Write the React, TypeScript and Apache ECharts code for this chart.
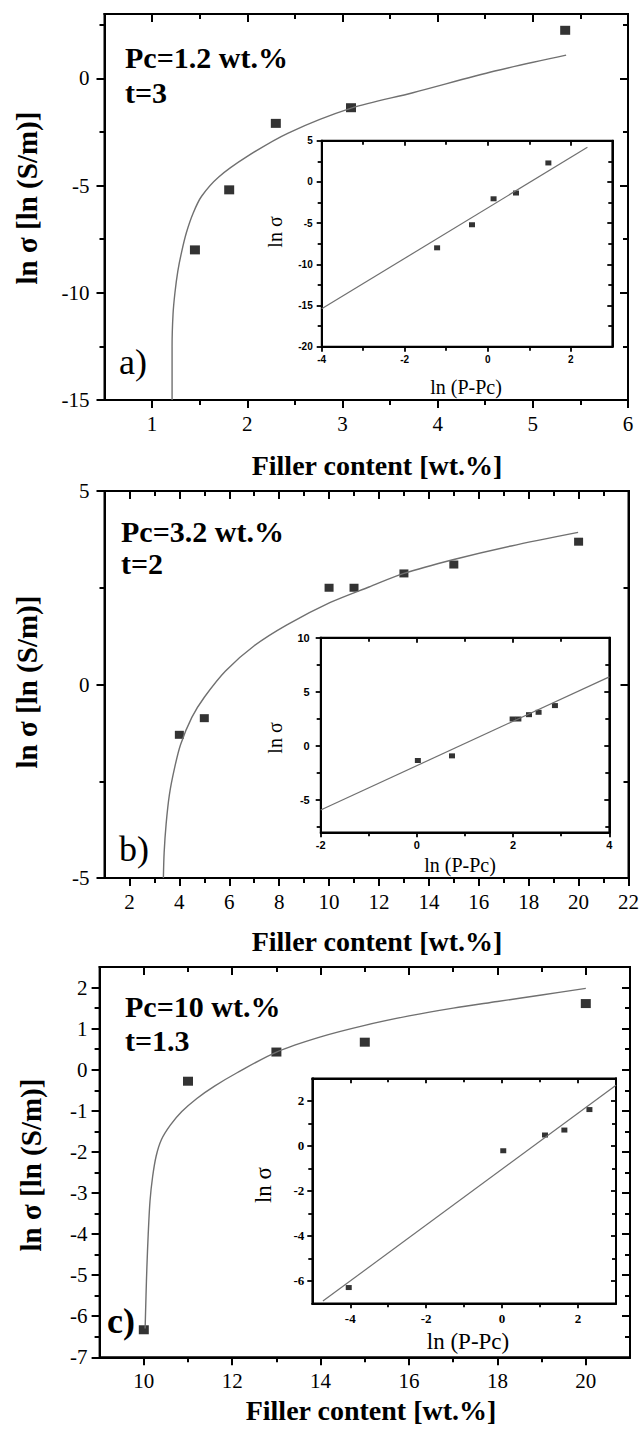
import React, { useEffect, useRef } from "react";
import * as echarts from "echarts";

// ---------- Panel a) Pc = 1.2 wt.%, t = 3 ----------
const aPoints = [[1.45, -8.0], [1.81, -5.2], [2.3, -2.1], [3.09, -1.37], [5.34, 2.24]];
const aCurve = [
  [1.21, -15], [1.21, -12.5], [1.22, -11], [1.24, -10], [1.27, -9], [1.31, -8.1], [1.36, -7.2],
  [1.43, -6.3], [1.52, -5.5], [1.7, -4.6], [2.0, -3.64], [2.43, -2.55], [3.1, -1.38],
  [3.74, -0.67], [4.6, 0.34], [5.35, 1.08],
];
const aInsetPoints = [[-1.22, -8.0], [-0.38, -5.2], [0.14, -2.05], [0.68, -1.35], [1.46, 2.3]];
const aInsetFit = [[-4, -15.4], [2.4, 4.2]];

// ---------- Panel b) Pc = 3.2 wt.%, t = 2 ----------
const bPoints = [[4, -1.3], [5, -0.87], [10, 2.5], [11, 2.5], [13, 2.87], [15, 3.1], [20, 3.69]];
const bCurve = [
  [3.36, -5], [3.39, -4.35], [3.47, -3.6], [3.6, -2.85], [3.8, -2.18], [4.05, -1.55],
  [4.5, -0.85], [5.0, -0.33], [5.85, 0.35], [7.0, 1.0], [8.31, 1.54], [10.05, 2.12],
  [11.6, 2.52], [13.0, 2.87], [15.0, 3.23], [17.3, 3.58], [19.98, 3.93],
];
const bInsetPoints = [[0.02, -1.36], [0.73, -0.93], [1.99, 2.48], [2.11, 2.48], [2.33, 2.88], [2.53, 3.1], [2.87, 3.72]];
const bInsetFit = [[-2, -5.94], [4, 6.38]];

// ---------- Panel c) Pc = 10 wt.%, t = 1.3 ----------
const cPoints = [[10, -6.33], [11, -0.28], [13, 0.43], [15, 0.67], [20, 1.61]];
const cCurve = [
  [10.03, -6.3], [10.05, -5.5], [10.07, -4.8], [10.1, -4], [10.14, -3.2], [10.2, -2.6],
  [10.28, -2.1], [10.4, -1.7], [10.6, -1.35], [10.86, -1.02], [11.2, -0.7], [11.6, -0.4],
  [12.1, -0.08], [13, 0.43], [14, 0.8], [15, 1.08], [16, 1.31], [17, 1.5], [18, 1.66],
  [19, 1.82], [20, 1.98],
];
const cInsetPoints = [[-4.04, -6.3], [0.03, -0.22], [1.13, 0.48], [1.64, 0.7], [2.3, 1.61]];
const cInsetFit = [[-4.72, -6.9], [3.0, 2.69]];

// ---------- tick values ----------
const aXMajor = [1, 2, 3, 4, 5, 6];
const aXMinor = [1.5, 2.5, 3.5, 4.5, 5.5];
const aYMajor = [-15, -10, -5, 0];
const aYMinor = [-12.5, -7.5, -2.5, 2.5];
const aIXMajor = [-4, -2, 0, 2];
const aIXMinor = [-3, -1, 1];
const aIYMajor = [-20, -15, -10, -5, 0, 5];
const aIYMinor = [-17.5, -12.5, -7.5, -2.5, 2.5];

const bXMajor = [2, 4, 6, 8, 10, 12, 14, 16, 18, 20, 22];
const bXMinor = [3, 5, 7, 9, 11, 13, 15, 17, 19, 21];
const bYMajor = [-5, 0, 5];
const bYMinor = [-2.5, 2.5];
const bIXMajor = [-2, 0, 2, 4];
const bIXMinor = [-1, 1, 3];
const bIYMajor = [-5, 0, 5, 10];
const bIYMinor = [-7.5, -2.5, 2.5, 7.5];

const cXMajor = [10, 12, 14, 16, 18, 20];
const cXMinor = [11, 13, 15, 17, 19];
const cYMajor = [-7, -6, -5, -4, -3, -2, -1, 0, 1, 2];
const cYMinor = [-6.5, -5.5, -4.5, -3.5, -2.5, -1.5, -0.5, 0.5, 1.5];
const cIXMajor = [-4, -2, 0, 2];
const cIXMinor = [-3, -1, 1];
const cIYMajor = [-6, -4, -2, 0, 2];
const cIYMinor = [-5, -3, -1, 1];

const SERIF = "'Liberation Serif','Times New Roman',serif";
const SANS = "'Liberation Sans','DejaVu Sans',sans-serif";
const INK = "#000";
const TICK = "#000";

type Panel = {
  grid: { left: number; top: number; width: number; height: number };
  x: [number, number];
  y: [number, number];
  xMajor: number[]; xMinor: number[]; yMajor: number[]; yMinor: number[];
  font: { size: number; family: string; weight: string };
  xMargin: number; yMargin: number;
  majLen: number; minLen: number; lw: number;
  points: number[][]; line: number[][]; pointSize: number[]; smooth: number | boolean;
  lineColor: string; lineWidth: number;
};

const panels: Panel[] = [
  {
    grid: { left: 104.5, top: 14, width: 523.5, height: 386 },
    x: [0.5, 6], y: [-15, 3],
    xMajor: aXMajor, xMinor: aXMinor, yMajor: aYMajor, yMinor: aYMinor,
    font: { size: 21, family: SERIF, weight: "normal" }, xMargin: 13, yMargin: 15,
    majLen: 8, minLen: 5, lw: 2,
    points: aPoints, line: aCurve, pointSize: [10, 9], smooth: 0.3,
    lineColor: "#707070", lineWidth: 1.4,
  },
  {
    grid: { left: 321.7, top: 140.7, width: 290.6, height: 206 },
    x: [-4, 3], y: [-20, 5],
    xMajor: aIXMajor, xMinor: aIXMinor, yMajor: aIYMajor, yMinor: aIYMinor,
    font: { size: 10, family: SANS, weight: "bold" }, xMargin: 8, yMargin: 9,
    majLen: 5, minLen: 4, lw: 1.8,
    points: aInsetPoints, line: aInsetFit, pointSize: [6, 5], smooth: false,
    lineColor: "#707070", lineWidth: 1.2,
  },
  {
    grid: { left: 104.5, top: 491, width: 524.5, height: 387 },
    x: [1, 22], y: [-5, 5],
    xMajor: bXMajor, xMinor: bXMinor, yMajor: bYMajor, yMinor: bYMinor,
    font: { size: 21, family: SERIF, weight: "normal" }, xMargin: 13, yMargin: 15,
    majLen: 8, minLen: 5, lw: 2,
    points: bPoints, line: bCurve, pointSize: [9, 8], smooth: 0.3,
    lineColor: "#707070", lineWidth: 1.4,
  },
  {
    grid: { left: 320.7, top: 637.7, width: 288.6, height: 194.6 },
    x: [-2, 4], y: [-8, 10],
    xMajor: bIXMajor, xMinor: bIXMinor, yMajor: bIYMajor, yMinor: bIYMinor,
    font: { size: 11, family: SANS, weight: "bold" }, xMargin: 7, yMargin: 11,
    majLen: 5, minLen: 4, lw: 1.8,
    points: bInsetPoints, line: bInsetFit, pointSize: [6, 5], smooth: false,
    lineColor: "#707070", lineWidth: 1.2,
  },
  {
    grid: { left: 99.6, top: 967, width: 530.4, height: 390.3 },
    x: [9, 21], y: [-7, 2.5],
    xMajor: cXMajor, xMinor: cXMinor, yMajor: cYMajor, yMinor: cYMinor,
    font: { size: 21, family: SERIF, weight: "normal" }, xMargin: 13, yMargin: 12,
    majLen: 8, minLen: 5, lw: 2,
    points: cPoints, line: cCurve, pointSize: [10, 9], smooth: 0.3,
    lineColor: "#707070", lineWidth: 1.4,
  },
  {
    grid: { left: 312.3, top: 1078.3, width: 303.7, height: 225 },
    x: [-5, 3], y: [-7, 3],
    xMajor: cIXMajor, xMinor: cIXMinor, yMajor: cIYMajor, yMinor: cIYMinor,
    font: { size: 13, family: SERIF, weight: "bold" }, xMargin: 9, yMargin: 8,
    majLen: 5, minLen: 4, lw: 1.8,
    points: cInsetPoints, line: cInsetFit, pointSize: [6, 5], smooth: false,
    lineColor: "#707070", lineWidth: 1.2,
  },
];

// every tick (major, minor, mirrored) is drawn by ECharts' own axes: one axis per
// tick family, stacked at the same side with offset 0, sharing min/max with the panel
function buildOption() {
  const grid: any[] = [];
  const xAxis: any[] = [];
  const yAxis: any[] = [];
  const series: any[] = [];

  panels.forEach((p, gi) => {
    grid.push({
      left: p.grid.left, top: p.grid.top, width: p.grid.width, height: p.grid.height,
      show: true, borderColor: INK, borderWidth: p.lw,
    });
    const label = (vals: number[], show: boolean, margin: number) => ({
      show, customValues: vals, margin, fontSize: p.font.size, fontFamily: p.font.family,
      fontWeight: p.font.weight, color: INK,
    });
    const tick = (vals: number[], len: number, inside: boolean) => ({
      show: true, inside, length: len, customValues: vals, lineStyle: { color: TICK, width: p.lw },
    });
    const base = { type: "value", gridIndex: gi, splitLine: { show: false } };
    const line = { show: true, onZero: false, lineStyle: { color: INK, width: p.lw } };
    const mk = (pos: string, range: number[], vals: number[], len: number, inside: boolean, lab: boolean, margin: number) => ({
      ...base, position: pos, min: range[0], max: range[1], axisLine: line,
      axisTick: tick(vals, len, inside), axisLabel: label(vals, lab, margin),
    });
    // index gi*3 + 0 is the data axis (with labels)
    xAxis.push(mk("bottom", p.x, p.xMajor, p.majLen, false, true, p.xMargin));
    xAxis.push(mk("bottom", p.x, p.xMinor, p.minLen, false, false, 0));
    xAxis.push(mk("top", p.x, p.xMajor, p.majLen, true, false, 0));
    xAxis.push(mk("top", p.x, p.xMinor, p.minLen, true, false, 0));
    yAxis.push(mk("left", p.y, p.yMajor, p.majLen, false, true, p.yMargin));
    yAxis.push(mk("left", p.y, p.yMinor, p.minLen, false, false, 0));
    yAxis.push(mk("right", p.y, p.yMajor, p.majLen, true, false, 0));
    yAxis.push(mk("right", p.y, p.yMinor, p.minLen, true, false, 0));

    const xi = gi * 4;
    series.push({
      type: "line", xAxisIndex: xi, yAxisIndex: xi, data: p.line, showSymbol: false, symbol: "none",
      smooth: p.smooth, clip: false, lineStyle: { color: p.lineColor, width: p.lineWidth },
    });
    series.push({
      type: "scatter", xAxisIndex: xi, yAxisIndex: xi, data: p.points, symbol: "rect", clip: false,
      symbolSize: p.pointSize, itemStyle: { color: INK },
    });
  });

  return { animation: false, grid, xAxis, yAxis, series };
}

function textGraphics() {
  const txt = (text: string, x: number, y: number, size: number, weight: string, opts: any = {}) => ({
    type: "text", x, y, rotation: opts.rotation || 0,
    style: {
      text, fontSize: size, fontFamily: opts.family || SERIF, fontWeight: weight, fill: INK,
      align: opts.align || "center", verticalAlign: "middle",
    },
  });
  const R = Math.PI / 2;
  return [
    txt("ln σ [ln (S/m)]", 27, 198, 29, "bold", { rotation: R }),
    txt("Filler content [wt.%]", 377, 465, 28, "bold"),
    txt("ln σ [ln (S/m)]", 27, 682, 29, "bold", { rotation: R }),
    txt("Filler content [wt.%]", 377, 941, 28, "bold"),
    txt("ln σ [ln (S/m)]", 31, 1165, 29, "bold", { rotation: R }),
    txt("Filler content [wt.%]", 371, 1410, 28, "bold"),
    txt("ln (P-Pc)", 466, 387, 20, "normal"),
    txt("ln σ", 275, 232, 20, "normal", { rotation: R }),
    txt("ln (P-Pc)", 460, 865, 20, "normal"),
    txt("ln σ", 275, 738, 20, "normal", { rotation: R }),
    txt("ln (P-Pc)", 468, 1341, 23, "normal"),
    txt("ln σ", 263, 1185, 23, "normal", { rotation: R }),
    txt("Pc=1.2 wt.%", 125, 57.5, 30, "bold", { align: "left" }),
    txt("t=3", 125, 92, 30, "bold", { align: "left" }),
    txt("a)", 119, 362, 36, "normal", { align: "left" }),
    txt("Pc=3.2 wt.%", 121, 531, 30, "bold", { align: "left" }),
    txt("t=2", 121, 563, 30, "bold", { align: "left" }),
    txt("b)", 119, 849, 36, "normal", { align: "left" }),
    txt("Pc=10 wt.%", 125, 1006, 30, "bold", { align: "left" }),
    txt("t=1.3", 125, 1040, 30, "bold", { align: "left" }),
    txt("c)", 107, 1321, 36, "bold", { align: "left" }),
  ];
}

export default function App() {
  const ref = useRef<HTMLDivElement>(null);
  useEffect(() => {
    if (!ref.current) return;
    const chart = echarts.init(ref.current, undefined, { renderer: "svg" });
    const opt: any = buildOption();
    opt.graphic = { elements: textGraphics() };
    chart.setOption(opt);
    return () => chart.dispose();
  }, []);
  return (
    <div
      ref={ref}
      style={{ position: "absolute", left: 0, top: 0, width: 642, height: 1437, background: "#fff" }}
    />
  );
}
